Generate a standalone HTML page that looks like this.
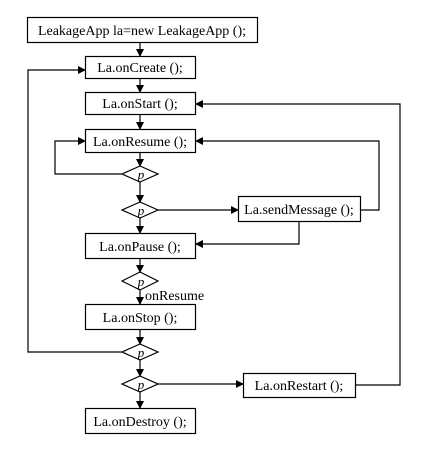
<!DOCTYPE html>
<html><head><style>body{margin:0;background:#fff}</style></head><body>
<svg width="424" height="446" xmlns="http://www.w3.org/2000/svg" font-family="Liberation Serif, serif" font-size="14">
<defs><marker id="a" markerWidth="8" markerHeight="8" refX="7" refY="4" orient="auto" markerUnits="userSpaceOnUse"><path d="M0,0L8,4L0,8z" fill="#000"/></marker></defs>
<g fill="#fff" stroke="#000" stroke-width="1.2">
<rect x="27.5" y="17.5" width="230" height="25"/>
<rect x="85.5" y="56.5" width="110" height="22"/>
<rect x="85.5" y="92.5" width="110" height="22"/>
<rect x="85.5" y="129.5" width="110" height="23"/>
<rect x="238.5" y="196.5" width="122" height="25"/>
<rect x="85.5" y="233.5" width="110" height="25"/>
<rect x="85.5" y="304.5" width="110" height="25"/>
<rect x="243.5" y="373.5" width="112" height="24"/>
<rect x="85.5" y="408.5" width="110" height="25"/>
<path d="M122,174L140,166L158,174L140,182z"/>
<path d="M122,210L140,202L158,210L140,218z"/>
<path d="M122,281L140,272L158,281L140,290z"/>
<path d="M122,352L140,344L158,352L140,360z"/>
<path d="M122,384L140,376L158,384L140,392z"/>
</g>
<g stroke="#000" stroke-width="1.2" fill="none" marker-end="url(#a)">
<path d="M140,43V56"/><path d="M140,79V92"/><path d="M140,115V129"/><path d="M140,153V166"/>
<path d="M140,182V202"/><path d="M140,218V233"/><path d="M140,259V272"/><path d="M140,290V304"/>
<path d="M140,330V344"/><path d="M140,360V376"/><path d="M140,392V408"/>
<path d="M122,174H55V141H85"/>
<path d="M158,210H238"/>
<path d="M361,210H379V141H196"/>
<path d="M299,222V244H196"/>
<path d="M122,352H28V70H85"/>
<path d="M158,384H243"/>
<path d="M356,385H400V104H196"/>
</g>
<g text-anchor="middle">
<text x="142" y="35">LeakageApp la=new LeakageApp ();</text>
<text x="140" y="72">La.onCreate ();</text>
<text x="140" y="108">La.onStart ();</text>
<text x="140" y="146">La.onResume ();</text>
<text x="299" y="214">La.sendMessage ();</text>
<text x="140" y="251">La.onPause ();</text>
<text x="140" y="322">La.onStop ();</text>
<text x="299" y="390">La.onRestart ();</text>
<text x="140" y="426">La.onDestroy ();</text>
<g font-style="italic" font-size="13"><text x="141" y="179">p</text><text x="141" y="215">p</text><text x="141" y="286">p</text><text x="141" y="357">p</text><text x="141" y="389">p</text></g>
</g>
<text x="145" y="300">onResume</text>
</svg>
</body></html>
